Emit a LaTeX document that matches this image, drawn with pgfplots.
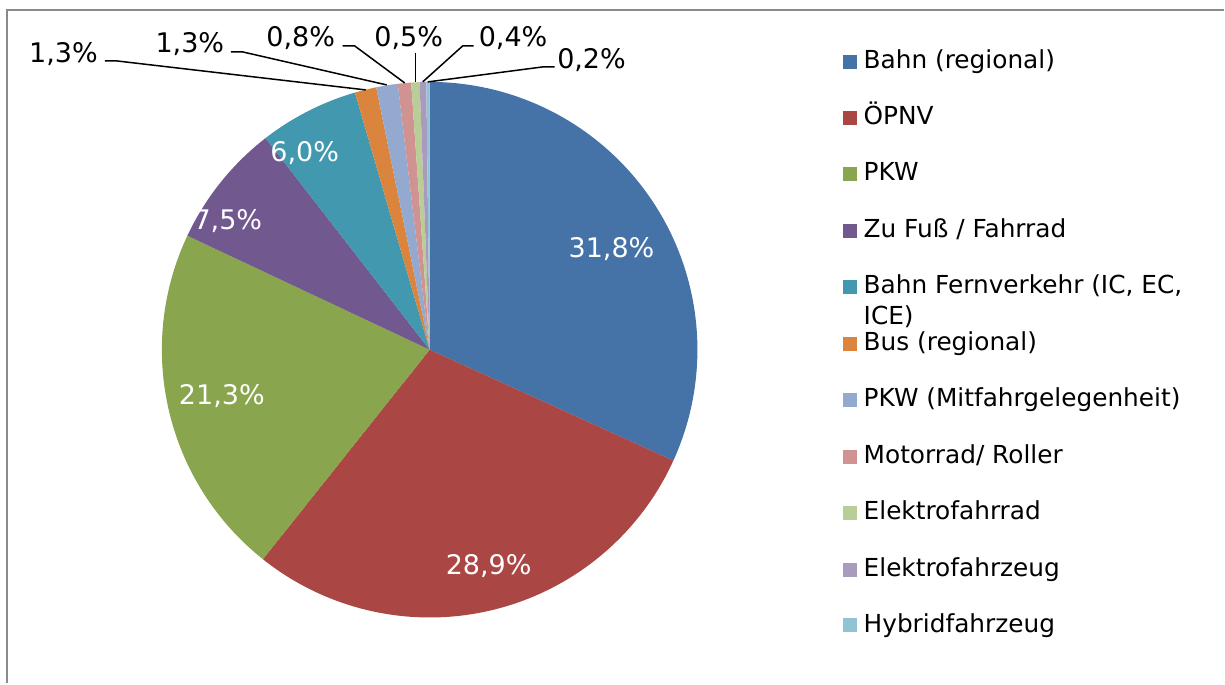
\documentclass[border=0pt]{standalone}
\usepackage{fontspec}
\setmainfont{DejaVu Sans}
\usepackage{xcolor}
\usepackage{pgfplots}
\pgfplotsset{compat=1.18}

% Excel-2007 style palette
\definecolor{c1}{HTML}{4572A7}
\definecolor{c2}{HTML}{AA4643}
\definecolor{c3}{HTML}{89A54E}
\definecolor{c4}{HTML}{71588F}
\definecolor{c5}{HTML}{4198AF}
\definecolor{c6}{HTML}{DB843D}
\definecolor{c7}{HTML}{93A9CF}
\definecolor{c8}{HTML}{D19392}
\definecolor{c9}{HTML}{B9CD96}
\definecolor{c10}{HTML}{A99BBD}
\definecolor{c11}{HTML}{92C3D4}
\definecolor{frame}{HTML}{8A8A8A}

% share in percent / colour
\newcommand\piedata{31.8/c1, 28.9/c2, 21.3/c3, 7.5/c4, 6.0/c5, 1.3/c6,
                    1.3/c7, 0.8/c8, 0.5/c9, 0.4/c10, 0.2/c11}

\begin{document}
\fontsize{13.5}{16}\selectfont
\begin{tikzpicture}[font=\fontsize{13.5}{16}\selectfont]
\begin{axis}[
    x=0.5pt, y=0.5pt,
    xmin=0, xmax=1225, ymin=-684, ymax=0,
    hide axis, clip=false,
]
\path (axis cs:0,0) rectangle (axis cs:1225,-684);

%% frame (top and left edge visible)
\draw[frame, line width=1pt] (axis cs:1225,-10) -- (axis cs:7,-10) -- (axis cs:7,-684);

%% slices, clockwise from 12 o'clock, centre (430,-350), radius 268
\gdef\cum{0}
\foreach \v/\c in \piedata {
    \pgfmathsetmacro\aa{90-3.6*\cum}
    \pgfmathsetmacro\bb{90-3.6*(\cum+\v)}
    \pgfmathsetmacro\sx{430+268*cos(\aa)}
    \pgfmathsetmacro\sy{-350+268*sin(\aa)}
    \edef\temp{\noexpand\fill[\c] (axis cs:430,-350) -- (axis cs:\sx,\sy)
        arc[start angle=\aa, end angle=\bb, radius=134pt] -- cycle;}
    \temp
    \pgfmathsetmacro\newcum{\cum+\v}
    \global\let\cum\newcum
}

%% labels inside
\node[white, anchor=base] at (axis cs:612,-258) {31,8\%};
\node[white, anchor=base] at (axis cs:489,-575) {28,9\%};
\node[white, anchor=base] at (axis cs:222,-405) {21,3\%};
\node[white, anchor=base] at (axis cs:228,-230) {7,5\%};
\node[white, anchor=base] at (axis cs:305,-162) {6,0\%};

%% labels outside with leader lines
\draw[black, line width=0.75pt] (axis cs:105,-61) -- (axis cs:117,-61) -- (axis cs:366,-90);
\draw[black, line width=0.75pt] (axis cs:231,-52) -- (axis cs:243,-52) -- (axis cs:387,-85);
\draw[black, line width=0.75pt] (axis cs:343,-46) -- (axis cs:355,-46) -- (axis cs:405,-83);
\draw[black, line width=0.75pt] (axis cs:416,-53) -- (axis cs:416,-82);
\draw[black, line width=0.75pt] (axis cs:474,-46) -- (axis cs:463,-46) -- (axis cs:423,-82);
\draw[black, line width=0.75pt] (axis cs:555,-67) -- (axis cs:543,-67) -- (axis cs:428,-82);
\node[anchor=base] at (axis cs:63.5,-63) {1,3\%};
\node[anchor=base] at (axis cs:190,-53) {1,3\%};
\node[anchor=base] at (axis cs:301,-47) {0,8\%};
\node[anchor=base] at (axis cs:409,-47) {0,5\%};
\node[anchor=base] at (axis cs:513.5,-47) {0,4\%};
\node[anchor=base] at (axis cs:592,-69) {0,2\%};

%% legend
\foreach \y/\c/\t in {62/c1/{Bahn (regional)}, 118/c2/{ÖPNV}, 174/c3/{PKW},
        231/c4/{Zu Fuß / Fahrrad}, 287/c5/{Bahn Fernverkehr (IC, EC,}, 
        344/c6/{Bus (regional)}, 400/c7/{PKW (Mitfahrgelegenheit)},
        457/c8/{Motorrad/ Roller}, 513/c9/{Elektrofahrrad},
        570/c10/{Elektrofahrzeug}, 626/c11/{Hybridfahrzeug}} {
    \pgfmathsetmacro\ya{-\y+7}
    \pgfmathsetmacro\yb{-\y-7}
    \edef\temp{\noexpand\fill[\c] (axis cs:844,\ya) rectangle (axis cs:858,\yb);
        \noexpand\node[anchor=base west, inner xsep=0pt, font=\noexpand\fontsize{12.4}{15}\noexpand\selectfont] at (axis cs:864,\yb) {\unexpanded\expandafter{\t}};}
    \temp
}
\node[anchor=base west, inner xsep=0pt, font=\fontsize{12.4}{15}\selectfont] at (axis cs:864,-325) {ICE)};
\end{axis}
\end{tikzpicture}
\end{document}
